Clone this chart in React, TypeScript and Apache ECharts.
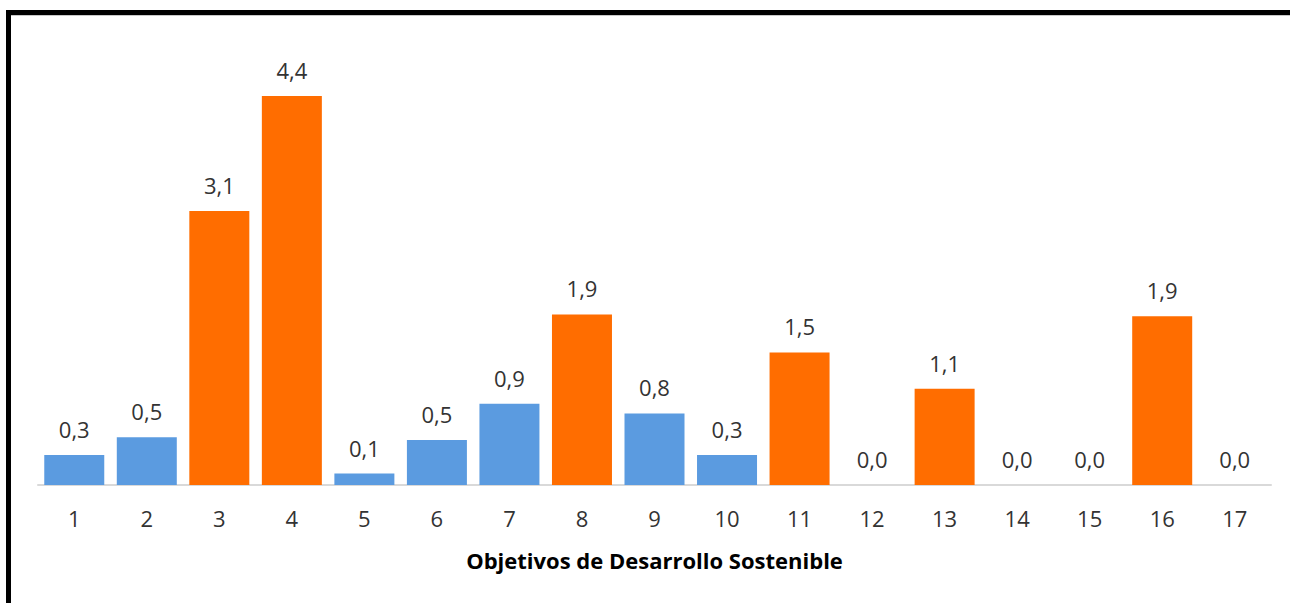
import React, { useEffect, useRef } from "react";
import * as echarts from "echarts";

const categories = ["1", "2", "3", "4", "5", "6", "7", "8", "9", "10", "11", "12", "13", "14", "15", "16", "17"];
const values = [0.34, 0.54, 3.1, 4.4, 0.13, 0.51, 0.92, 1.93, 0.81, 0.34, 1.5, 0.0, 1.09, 0.0, 0.0, 1.91, 0.0];
const highlighted = [false, false, true, true, false, false, false, true, false, false, true, true, true, true, true, true, true];
const axisTitle = "Objetivos de Desarrollo Sostenible";

const BLUE = "#5B9BE0";
const ORANGE = "#FF6D00";
const FONT = "'Open Sans', sans-serif";

export default function App() {
  const ref = useRef<HTMLDivElement>(null);
  useEffect(() => {
    if (!ref.current) return;
    const chart = echarts.init(ref.current, undefined, { renderer: "svg" });
    chart.setOption({
      animation: false,
      backgroundColor: "#ffffff",
      graphic: [
        {
          type: "rect",
          shape: { x: 8.5, y: 12.5, width: 1400, height: 700 },
          style: { fill: "none", stroke: "#000000", lineWidth: 5 },
          z: 100,
        },
        {
          type: "line",
          shape: { x1: 11, y1: 15.5, x2: 1300, y2: 15.5 },
          style: { stroke: "#c8c8c8", lineWidth: 1 },
          z: 100,
        },
      ],
      grid: { left: 38, right: 19, top: 43, bottom: 118, containLabel: false },
      xAxis: {
        type: "category",
        data: categories,
        name: axisTitle,
        nameLocation: "middle",
        nameGap: 64,
        nameTextStyle: { fontFamily: FONT, fontSize: 22, fontWeight: "bold", color: "#000000" },
        axisLine: { lineStyle: { color: "#d9d9d9", width: 2 } },
        axisTick: { show: false },
        axisLabel: { fontFamily: FONT, fontSize: 22, color: "#333333", margin: 22 },
      },
      yAxis: {
        type: "value",
        min: 0,
        max: 5,
        show: false,
        splitLine: { show: false },
      },
      series: [
        {
          type: "bar",
          barWidth: 60,
          data: values.map((v, i) => ({
            value: v,
            itemStyle: { color: highlighted[i] ? ORANGE : BLUE },
          })),
          label: {
            show: true,
            position: "top",
            distance: 15,
            fontFamily: FONT,
            fontSize: 22,
            color: "#333333",
            formatter: (p: any) => Number(p.value).toFixed(1).replace(".", ","),
          },
        },
      ],
    });
    return () => chart.dispose();
  }, []);
  return (
    <div
      ref={ref}
      style={{ position: "absolute", left: 0, top: 0, width: 1290, height: 603 }}
    />
  );
}
